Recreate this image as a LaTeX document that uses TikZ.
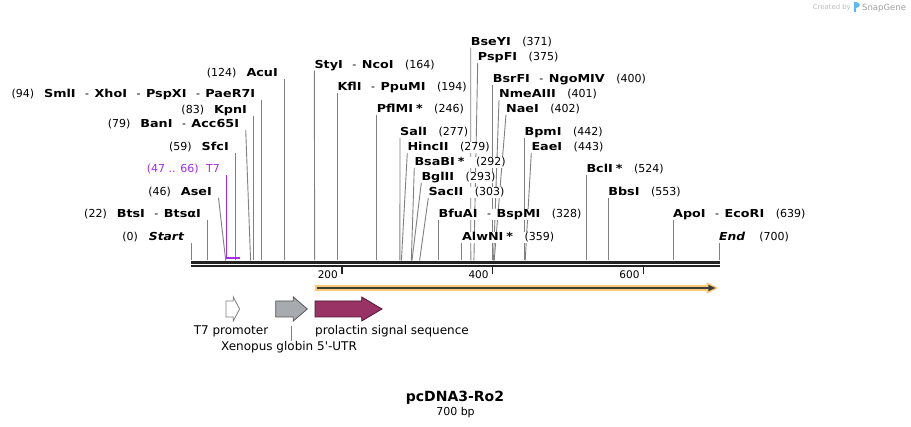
\documentclass[tikz,border=0pt]{standalone}
\usepackage{fontspec}
\setmainfont{DejaVu Sans}[
  BoldFont={DejaVu Sans Bold},
  ItalicFont={DejaVu Sans Oblique},
  BoldItalicFont={DejaVu Sans Bold Oblique},
  BoldFeatures={FakeStretch=1.16},
  BoldItalicFeatures={FakeStretch=1.12}]
\newfontfamily\titlefont{DejaVu Sans}[BoldFont={DejaVu Sans Bold}]
\pgfdeclarelayer{bg}
\pgfsetlayers{bg,main}
\definecolor{cutgray}{RGB}{128,128,128}
\definecolor{axisblack}{RGB}{34,34,34}
\definecolor{t7purple}{RGB}{163,45,235}
\definecolor{orfo}{RGB}{252,202,115}
\definecolor{orfd}{RGB}{60,60,60}
\definecolor{utrgray}{RGB}{167,171,176}
\definecolor{utredge}{RGB}{85,85,85}
\definecolor{maroon}{RGB}{153,51,102}
\definecolor{maroonedge}{RGB}{75,25,50}
\definecolor{wmgray}{RGB}{190,190,190}
\definecolor{wmdark}{RGB}{160,160,160}
\definecolor{snapblue}{RGB}{95,185,240}
\newcommand\Ez[1]{\textbf{#1}}
\newcommand\Dh{\hspace{9.5pt}-\hspace{5.5pt}}
\newcommand\Gr{\hspace{11.5pt}}
\newcommand\Gl{\hspace{10pt}}
\newcommand\Sk{\hspace{3pt}\textbf{*}}
\tikzset{
  lab/.style={inner xsep=0pt, inner ysep=0pt, fill=white, text height=8.5pt, text depth=2pt, font=\fontsize{11}{13}\selectfont},
  rl/.style={lab, anchor=base west},
  ll/.style={lab, anchor=base east},
  cut/.style={draw=cutgray, line width=0.9pt},
  axisline/.style={draw=axisblack, line width=2.3pt},
  tickline/.style={draw=axisblack, line width=1.5pt},
  ticklab/.style={inner sep=0pt, anchor=base east, font=\fontsize{10.5}{12}\selectfont},
  featlab/.style={inner sep=0pt, font=\fontsize{12}{14}\selectfont},
}
\newcommand\RL[5]{%
  \node[rl] (#1) at (#2,#3+4) {#5};
  \coordinate (#1-a) at (#4,260.5);
  \begin{pgfonlayer}{bg}\draw[cut] (#1.south west) -- (#1-a);\end{pgfonlayer}}
\newcommand\LL[5]{%
  \node[ll] (#1) at (#2-6.5,#3+4) {#5};
  \coordinate (#1-a) at (#4,260.5);
  \begin{pgfonlayer}{bg}\draw[cut] ([xshift=6.5pt]#1.south east) -- (#1-a);\end{pgfonlayer}}
\begin{document}
\begin{tikzpicture}[x=1pt,y=-1pt]
\begin{pgfonlayer}{bg}
  \fill[white] (0,0) rectangle (911,427);
\end{pgfonlayer}
\useasboundingbox (0,0) rectangle (911,427);

% watermark
\node[inner sep=0pt, anchor=base east, text=wmgray, font=\fontsize{6.9}{8}\selectfont] (wm1) at (851,10) {Created by};
\fill[snapblue] (853.5,2.5) rectangle (855.8,12);
\fill[snapblue] (855.8,2.5) .. controls (860.5,2.5) and (860.5,8.5) .. (855.8,8.5) -- cycle;
\node[inner sep=0pt, anchor=base west, text=wmdark, font=\fontsize{8.5}{10}\selectfont] (wm2) at (862,10.5) {SnapGene};

% right-hand enzyme labels
\RL{bseyi}{470.7}{41.5}{470.8}{\Ez{BseYI}\Gr(371)}
\RL{pspfi}{477.7}{57}{473.9}{\Ez{PspFI}\Gr(375)}
\RL{styi}{314.3}{64.5}{314.7}{\Ez{StyI}\Dh\Ez{NcoI}\Gr(164)}
\RL{bsrfi}{492.7}{78.5}{492.7}{\Ez{BsrFI}\Dh\Ez{NgoMIV}\Gr(400)}
\RL{kfli}{337.3}{86.7}{337.3}{\Ez{KflI}\Dh\Ez{PpuMI}\Gr(194)}
\RL{nmeaiii}{499}{94}{493.5}{\Ez{NmeAIII}\Gr(401)}
\RL{pflmi}{376.6}{108.5}{376.6}{\Ez{PflMI}\Sk\Gr(246)}
\RL{naei}{506}{108.5}{494.2}{\Ez{NaeI}\Gr(402)}
\RL{sali}{400}{132}{399.9}{\Ez{SalI}\Gr(277)}
\RL{bpmi}{524.4}{132}{524.4}{\Ez{BpmI}\Gr(442)}
\RL{hincii}{407.3}{146.7}{401.4}{\Ez{HincII}\Gr(279)}
\RL{eaei}{531.3}{146.7}{525.2}{\Ez{EaeI}\Gr(443)}
\RL{bsabi}{414.3}{161.7}{411.3}{\Ez{BsaBI}\Sk\Gr(292)}
\RL{bcli}{586.3}{169}{586.3}{\Ez{BclI}\Sk\Gr(524)}
\RL{bglii}{421.3}{176.7}{412}{\Ez{BglII}\Gr(293)}
\RL{sacii}{428.3}{191.7}{419.6}{\Ez{SacII}\Gr(303)}
\RL{bbsi}{608.1}{192}{608.1}{\Ez{BbsI}\Gr(553)}
\RL{bfuai}{438.4}{214}{438.4}{\Ez{BfuAI}\Dh\Ez{BspMI}\Gr(328)}
\RL{apoi}{673}{214}{673}{\Ez{ApoI}\Dh\Ez{EcoRI}\Gr(639)}
\RL{alwni}{461.8}{236.8}{461.8}{\Ez{AlwNI}\Sk\Gr(359)}
\RL{endl}{719}{237}{719}{\textbf{\textit{End}}\hspace{14pt}(700)}

% left-hand enzyme labels
\LL{acui}{284.5}{73}{284.5}{(124)\Gl\Ez{AcuI}}
\LL{smli}{261.9}{93.5}{261.9}{(94)\Gl\Ez{SmlI}\Dh\Ez{XhoI}\Dh\Ez{PspXI}\Dh\Ez{PaeR7I}}
\LL{kpni}{253.6}{109.5}{253.6}{(83)\Gl\Ez{KpnI}}
\LL{bani}{245.7}{124}{250.6}{(79)\Gl\Ez{BanI}\Dh\Ez{Acc65I}}
\LL{sfci}{235.5}{147}{235.5}{(59)\Gl\Ez{SfcI}}
\LL{asei}{218.5}{191.7}{225.7}{(46)\Gl\Ez{AseI}}
\LL{btsi}{207.6}{213.5}{207.6}{(22)\Gl\Ez{BtsI}\Dh\Ez{BtsαI}}
\LL{start}{191}{236.7}{191}{(0)\hspace{11pt}\textbf{\textit{Start}}}

% T7 primer-like feature
\node[ll, text=t7purple] (t7) at (220,173) {(47 .. 66)\hspace{7.5pt}T7};
\coordinate (t7a) at (226.5,257.7);
\coordinate (t7b) at (240,257.7);
\draw[t7purple, line width=1.7pt] ([xshift=6.5pt]t7.south east) -- (t7a) -- (t7b);

% sequence axis
\coordinate (ax0) at (191,262.6);
\coordinate (ax1) at (720,262.6);
\coordinate (bx0) at (191,266.2);
\coordinate (bx1) at (720,266.2);
\draw[axisline] (ax0) -- (ax1);
\draw[axisline] (bx0) -- (bx1);

% ruler ticks
\coordinate (k200) at (341.9,267.3);
\coordinate (k400) at (492.7,267.3);
\coordinate (k600) at (643.6,267.3);
\draw[tickline] (k200) -- ++(0,7);
\draw[tickline] (k400) -- ++(0,7);
\draw[tickline] (k600) -- ++(0,7);
\node[ticklab] (l200) at (338,278.3) {200};
\node[ticklab] (l400) at (488.8,278.3) {400};
\node[ticklab] (l600) at (639.7,278.3) {600};

% ORF arrow
\coordinate (orfs) at (315,288);
\coordinate (orfe) at (718.5,288);
\draw[orfo, line width=5.4pt] (orfs) -- (708,288);
\fill[orfo] (706.5,282.3) -- (orfe) -- (706.5,293.7) -- cycle;
\draw[orfd, line width=1.6pt] (316.7,288) -- (710,288);
\fill[orfd] (708.3,284.8) -- (715.5,288) -- (708.3,291.2) -- cycle;

% features
\draw[fill=white, draw=gray, line width=0.8pt]
  (226,301) -- (233.3,301) -- (233.3,297) -- (239.6,309) -- (233.3,321) -- (233.3,317) -- (226,317) -- cycle;
\draw[fill=utrgray, draw=utredge, line width=0.8pt]
  (275.7,301) -- (293.3,301) -- (293.3,297) -- (307.3,309) -- (293.3,321) -- (293.3,317) -- (275.7,317) -- cycle;
\draw[fill=maroon, draw=maroonedge, line width=0.8pt]
  (315,301) -- (361.7,301) -- (361.7,297) -- (382,309) -- (361.7,321) -- (361.7,317) -- (315,317) -- cycle;

\node[featlab, anchor=base] (t7p) at (231,334.3) {T7 promoter};
\node[featlab, anchor=base west] (prl) at (315,334.3) {prolactin signal sequence};
\node[featlab, anchor=base] (xen) at (289,350.3) {Xenopus globin 5\textquotesingle-UTR};
\coordinate (xtop) at (291,326.5);
\draw[gray, line width=0.8pt] (xtop) -- (xtop |- xen.north);

% title
\node[inner sep=0pt, anchor=base, font=\titlefont\bfseries\fontsize{14}{16}\selectfont] (title) at (455,401.8) {pcDNA3-Ro2};
\node[inner sep=0pt, anchor=base, font=\titlefont\fontsize{11}{13}\selectfont] (size) at (455.5,415.7) {700 bp};
\end{tikzpicture}
\end{document}
